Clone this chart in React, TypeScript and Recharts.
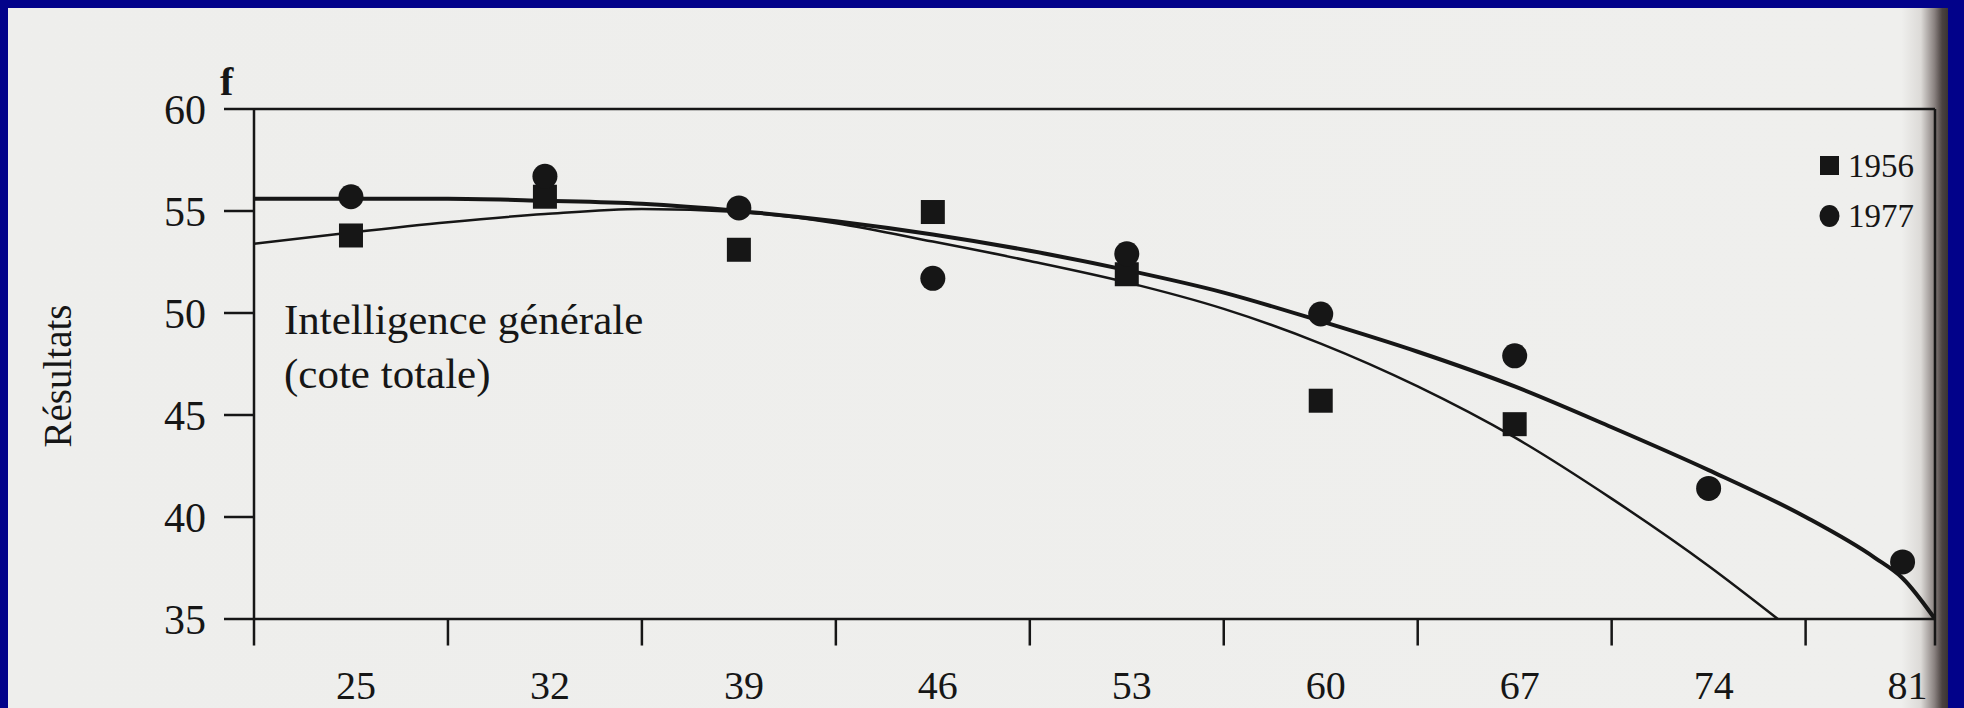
import React from 'react';
import {
  ComposedChart,
  Line,
  Scatter,
  XAxis,
  YAxis,
  ReferenceLine,
  Legend
} from 'recharts';

// cohort ages (x) and the measured scores
const ages = [25, 32, 39, 46, 53, 60, 67, 74, 81];
const scores1956 = [53.8, 55.7, 53.1, 54.95, 51.9, 45.7, 44.55, null, null];
const scores1977 = [55.7, 56.7, 55.15, 51.7, 52.9, 49.95, 47.9, 41.4, 37.8];
const seriesNames = ['1956', '1977'];

// fitted curves
const curveAges1977 = [21.5, 25, 28.5, 32, 35.5, 39, 42.5, 46, 49.5, 53, 56.5, 60, 63.5, 67, 70.5, 74, 77.5, 80, 81, 82.17];
const fit1977 = [55.6, 55.6, 55.6, 55.5, 55.35, 55.0, 54.5, 53.85, 53.05, 52.1, 51.0, 49.6, 48.1, 46.4, 44.4, 42.3, 40.0, 38.0, 37.0, 35.0];
const curveAges1956 = [21.5, 25, 28.5, 32, 35.5, 39, 42.5, 46, 49.5, 53, 56.5, 60, 63.5, 67, 70.5, 74, 76.5];
const fit1956 = [53.4, 53.95, 54.45, 54.85, 55.1, 54.95, 54.4, 53.5, 52.55, 51.5, 50.2, 48.5, 46.4, 43.9, 40.9, 37.6, 35.0];

const yTicks = [35, 40, 45, 50, 55, 60];
const xMin = 21.5;
const xMax = 82.17;
const bandEdges = ages.map((a) => a - 3.5).filter((e) => e > xMin);

const toPoints = (xs: number[], ys: (number | null)[]) =>
  xs.map((age, i) => ({ age, score: ys[i] })).filter((p) => p.score !== null);

const points1956 = toPoints(ages, scores1956);
const points1977 = toPoints(ages, scores1977);
const curve1956 = toPoints(curveAges1956, fit1956);
const curve1977 = toPoints(curveAges1977, fit1977);

const INK = '#161616';
const SERIF = '"Liberation Serif", "DejaVu Serif", serif';
const TICK_BOTTOM = 33.7; // tick marks hang below the 35 baseline

const SquareMark = ({ cx, cy }: any) => (
  <rect x={cx - 12} y={cy - 12} width={24} height={24} fill={INK} />
);
const CircleMark = ({ cx, cy }: any) => <circle cx={cx} cy={cy} r={12.5} fill={INK} />;

const LegendBox = ({ payload }: any) => (
  <div style={{ fontFamily: SERIF, fontSize: 33, color: INK, lineHeight: '50px' }}>
    {(payload || [])
      .filter((entry: any) => seriesNames.includes(entry.value))
      .map((entry: any) => (
        <div key={entry.value} style={{ display: 'flex', alignItems: 'center' }}>
          <svg width={24} height={24} style={{ marginRight: 6 }}>
            {entry.value === '1956' ? (
              <rect x={2} y={2} width={19} height={19} fill={INK} />
            ) : (
              <ellipse cx={11.5} cy={12} rx={10} ry={11} fill={INK} />
            )}
          </svg>
          <span>{entry.value}</span>
        </div>
      ))}
  </div>
);

export default function App() {
  return (
    <div
      style={{
        position: 'absolute',
        left: 0,
        top: 0,
        width: 1964,
        height: 708,
        background: '#02028a',
        overflow: 'hidden'
      }}
    >
      <div
        style={{
          position: 'absolute',
          left: 8,
          top: 8,
          width: 1940,
          height: 700,
          background:
            'linear-gradient(to right, #eeeeec 0%, #efefed 97.6%, #dcdad7 98.6%, #8a8280 99.3%, #4a4240 99.7%, #3b3433 100%)'
        }}
      />
      <div
        style={{
          position: 'absolute',
          left: 220,
          top: 58,
          fontFamily: SERIF,
          fontWeight: 'bold',
          fontSize: 40,
          color: INK
        }}
      >
        f
      </div>
      <div
        style={{
          position: 'absolute',
          left: 284,
          top: 293,
          fontFamily: SERIF,
          fontSize: 43,
          lineHeight: '54px',
          color: INK
        }}
      >
        Intelligence générale
        <br />
        (cote totale)
      </div>
      <div style={{ position: 'absolute', left: 0, top: 0 }}>
        <ComposedChart
          width={1964}
          height={708}
          margin={{ top: 109, right: 29, bottom: 0, left: 0 }}
        >
          <XAxis
            dataKey="age"
            type="number"
            domain={[xMin, xMax]}
            allowDataOverflow
            ticks={ages}
            interval={0}
            height={89}
            axisLine={{ stroke: INK, strokeWidth: 2.5 }}
            tickLine={false}
            tickSize={0}
            tickMargin={52}
            tick={{ fill: INK, fontSize: 40, fontFamily: SERIF, dx: 5 }}
          />
          <YAxis
            dataKey="score"
            type="number"
            domain={[35, 60]}
            ticks={yTicks}
            interval={0}
            width={254}
            tickSize={30}
            tickMargin={18}
            axisLine={{ stroke: INK, strokeWidth: 2.5 }}
            tickLine={{ stroke: INK, strokeWidth: 2.5 }}
            tick={{ fill: INK, fontSize: 42, fontFamily: SERIF }}
            label={{
              content: ({ viewBox }: any) => (
                <text
                  x={viewBox.x + 57}
                  y={viewBox.y + viewBox.height / 2 + 12}
                  transform={`rotate(-90 ${viewBox.x + 57} ${viewBox.y + viewBox.height / 2 + 12})`}
                  textAnchor="middle"
                  dominantBaseline="central"
                  fill={INK}
                  fontSize={39}
                  fontFamily={SERIF}
                >
                  Résultats
                </text>
              )
            }}
          />
          <ReferenceLine y={60} stroke={INK} strokeWidth={2.5} />
          <ReferenceLine
            segment={[{ x: xMax, y: 60 }, { x: xMax, y: TICK_BOTTOM }]}
            stroke={INK}
            strokeWidth={2.5}
            ifOverflow="visible"
          />
          {[xMin, ...bandEdges].map((edge) => (
            <ReferenceLine
              key={`edge-${edge}`}
              segment={[{ x: edge, y: 35 }, { x: edge, y: TICK_BOTTOM }]}
              stroke={INK}
              strokeWidth={2.5}
              ifOverflow="visible"
            />
          ))}
          <Line
            data={curve1956}
            dataKey="score"
            type="monotone"
            stroke={INK}
            strokeWidth={2.5}
            dot={false}
            legendType="none"
            isAnimationActive={false}
          />
          <Line
            data={curve1977}
            dataKey="score"
            type="monotone"
            stroke={INK}
            strokeWidth={4}
            dot={false}
            legendType="none"
            isAnimationActive={false}
          />
          <Scatter
            name="1956"
            data={points1956}
            dataKey="score"
            fill={INK}
            shape={SquareMark}
            isAnimationActive={false}
          />
          <Scatter
            name="1977"
            data={points1977}
            dataKey="score"
            fill={INK}
            shape={CircleMark}
            isAnimationActive={false}
          />
          <Legend
            layout="vertical"
            align="center"
            verticalAlign="middle"
            content={<LegendBox />}
            wrapperStyle={{ position: 'absolute', left: 1818, top: 141, width: 120 }}
          />
        </ComposedChart>
      </div>
    </div>
  );
}
